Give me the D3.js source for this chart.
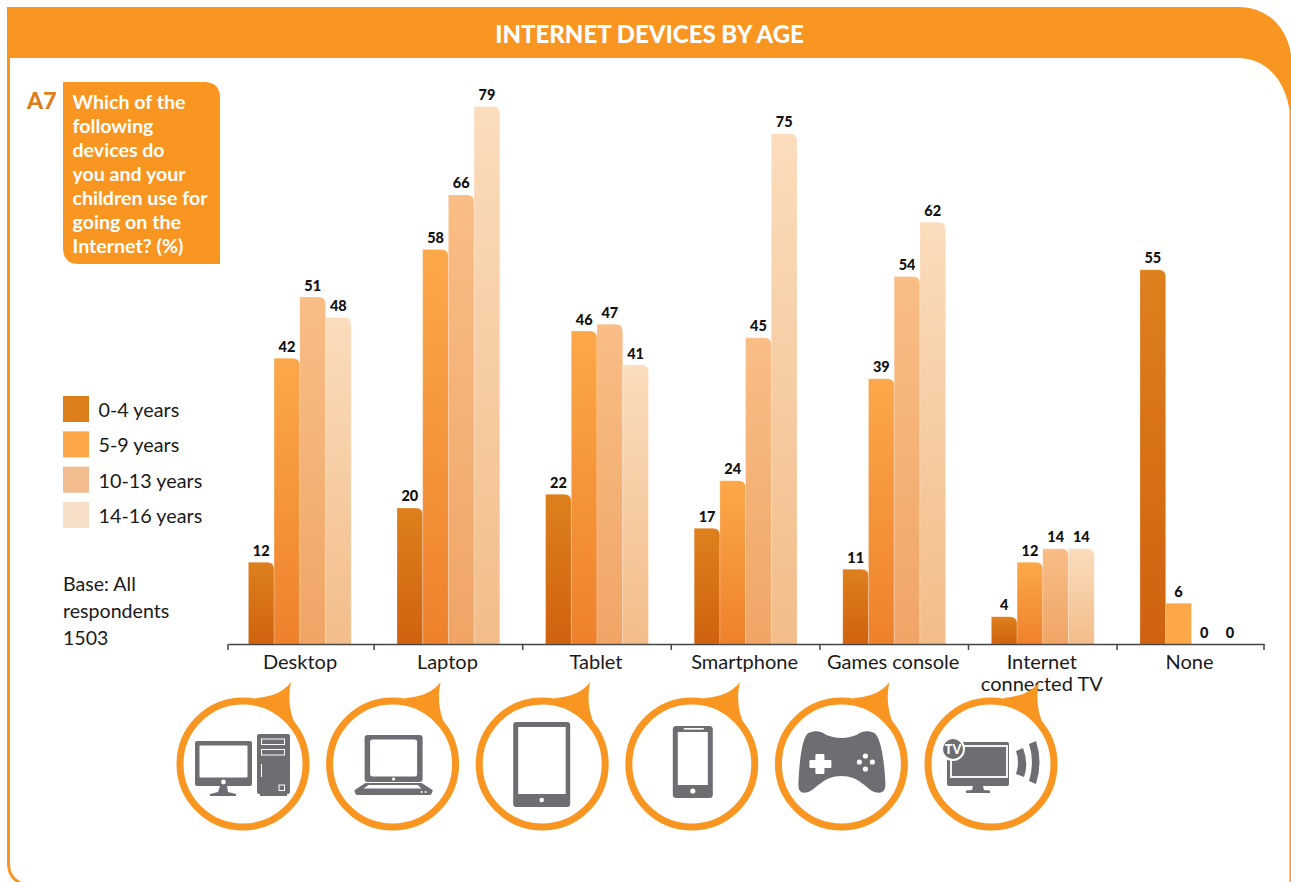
<!DOCTYPE html>
<html lang="en">
  <head>
    <meta charset="UTF-8" />
    <title>Internet devices by age</title>
    <script src="https://d3js.org/d3.v7.min.js"></script>
    <style>
      html, body { margin: 0; padding: 0; background: #fff; }
      svg { display: block; }
      text { font-family: Lato, "Open Sans", sans-serif; }
    </style>
  </head>
  <body>
    <svg width="1291" height="882"></svg>
    <script>
      // data
      const categories = ["Desktop", "Laptop", "Tablet", "Smartphone", "Games console", "Internet connected TV", "None"];
      const ageGroups = ["0-4 years", "5-9 years", "10-13 years", "14-16 years"];
      const age0to4 = [12, 20, 22, 17, 11, 4, 55];
      const age5to9 = [42, 58, 46, 24, 39, 12, 6];
      const age10to13 = [51, 66, 47, 45, 54, 14, 0];
      const age14to16 = [48, 79, 41, 75, 62, 14, 0];
      const seriesValues = [age0to4, age5to9, age10to13, age14to16];
      const questionLines = ["Which of the", "following", "devices do", "you and your", "children use for", "going on the", "Internet? (%)"];
      const baseLines = ["Base: All", "respondents", "1503"];
      const iconNames = ["desktop", "laptop", "tablet", "phone", "gamepad", "tv"];

      const orange = "#f99621";
      const grey = "#6d6e71";
      const legendColors = ["#dd7e1b", "#fca84a", "#f2bc8e", "#f8dfc8"];
      const barTop = ["#de801d", "#fca84a", "#f9bd85", "#fbdcbc"];
      const barBottom = ["#cf620f", "#ee812c", "#f0a566", "#f2bd8a"];

      const svg = d3.select("svg");

      // page frame
      svg.append("path")
        .attr("d", "M8.5,58 V864 Q8.5,877 20,883")
        .attr("fill", "none").attr("stroke", orange).attr("stroke-width", 3);
      svg.append("path")
        .attr("d", "M7,7 H1238 C1266,7 1286,25 1291,54 V882 H1289.5 V110 C1285,80 1266,58 1238,58 H7 Z")
        .attr("fill", orange);
      svg.append("text")
        .attr("x", 649.5).attr("y", 42.5)
        .attr("text-anchor", "middle")
        .attr("fill", "#fff").attr("font-size", 24).attr("font-weight", 900)
        .text("INTERNET DEVICES BY AGE");

      // question box
      svg.append("path")
        .attr("d", "M63,82 H204 Q220,82 220,98 V264 H79 Q63,264 63,248 Z")
        .attr("fill", orange);
      svg.append("text")
        .attr("x", 27).attr("y", 109)
        .attr("fill", "#dd7e1b").attr("font-size", 23).attr("font-weight", 900)
        .text("A7");
      svg.append("g").selectAll("text")
        .data(questionLines)
        .join("text")
        .attr("x", 72.5)
        .attr("y", (d, i) => 109 + i * 24)
        .attr("fill", "#fff").attr("font-size", 19.6).attr("font-weight", 700)
        .text(d => d);

      // legend
      const legend = svg.append("g");
      const legendY = d3.scalePoint().domain(ageGroups).range([396, 502]);
      legend.selectAll("rect")
        .data(ageGroups)
        .join("rect")
        .attr("x", 63).attr("y", d => legendY(d))
        .attr("width", 26).attr("height", 26)
        .attr("fill", (d, i) => legendColors[i]);
      legend.selectAll("text")
        .data(ageGroups)
        .join("text")
        .attr("x", 98.5).attr("y", d => legendY(d) + 21)
        .attr("fill", "#1a1a1a").attr("font-size", 19.8)
        .text(d => d);

      svg.append("g").selectAll("text")
        .data(baseLines)
        .join("text")
        .attr("x", 63)
        .attr("y", (d, i) => 591 + i * 27)
        .attr("fill", "#1a1a1a").attr("font-size", 19.6)
        .text(d => d);

      // scales
      const x0 = d3.scaleBand().domain(categories).range([228, 1268.2]);
      const x1 = d3.scaleBand().domain(d3.range(4)).range([20.4, 123.2]);
      const y = d3.scaleLinear().domain([0, 79]).range([644, 106.5]);

      // bar fills
      const defs = svg.append("defs");
      barTop.forEach((c, i) => {
        const grad = defs.append("linearGradient")
          .attr("id", "bar" + i)
          .attr("x1", 0).attr("y1", 0).attr("x2", 0).attr("y2", 1);
        grad.append("stop").attr("offset", 0).attr("stop-color", c);
        grad.append("stop").attr("offset", 1).attr("stop-color", barBottom[i]);
      });

      // the very short bar in "None" is flat and square in the original
      const isFlat = d => d.si === 1 && d.v < 10;

      // bar with a rounded top right corner
      function barPath(d) {
        const xPos = x0(d.c) + x1(d.si), w = x1.bandwidth();
        const top = y(d.v), base = y(0), r = isFlat(d) ? 0 : 7;
        return `M${xPos},${base} V${top} H${xPos + w - r} Q${xPos + w},${top} ${xPos + w},${top + r} V${base} Z`;
      }

      const rows = categories.flatMap((c, ci) =>
        seriesValues.map((vals, si) => ({ c, si, v: vals[ci] })));

      const barGroup = svg.append("g");
      barGroup.selectAll("path")
        .data(rows.filter(d => d.v > 0))
        .join("path")
        .attr("d", barPath)
        .attr("fill", d => isFlat(d) ? barTop[d.si] : `url(#bar${d.si})`)
        .attr("stroke", "#fff").attr("stroke-opacity", 0.35).attr("stroke-width", 0.6);

      barGroup.selectAll("text")
        .data(rows)
        .join("text")
        .attr("x", d => x0(d.c) + x1(d.si) + x1.bandwidth() / 2)
        .attr("y", d => y(d.v) - 6.5)
        .attr("text-anchor", "middle")
        .attr("fill", "#111").attr("font-size", 14.5).attr("font-weight", 900)
        .text(d => d.v);

      // axis: the line stops short of the last band and the inner ticks sit a little left
      const axisScale = d3.scaleBand().domain(categories).range([228, 1264]);
      const axis = svg.append("g")
        .attr("transform", "translate(0,644)")
        .call(d3.axisBottom(axisScale).tickSize(0).tickFormat(""));
      axis.select(".domain").attr("stroke", "#444").attr("stroke-width", 1.5);
      axis.selectAll(".tick").remove();
      const tickAt = i => i === 0 ? 228 : i === categories.length ? 1264 : x0(categories[i]) - 2.5;
      axis.selectAll("line.sep")
        .data(d3.range(categories.length + 1))
        .join("line")
        .attr("class", "sep")
        .attr("x1", tickAt)
        .attr("x2", tickAt)
        .attr("y1", 0).attr("y2", 6)
        .attr("stroke", "#444").attr("stroke-width", 1.5);

      const labelGroup = svg.append("g");
      const labelLines = d => d === "Internet connected TV" ? ["Internet", "connected TV"] : [d];
      labelGroup.selectAll("text")
        .data(categories)
        .join("text")
        .attr("text-anchor", "middle")
        .attr("fill", "#1a1a1a").attr("font-size", 20)
        .each(function (d, ci) {
          d3.select(this).selectAll("tspan")
            .data(labelLines(d))
            .join("tspan")
            .attr("x", (tickAt(ci) + tickAt(ci + 1)) / 2 - 1)
            .attr("y", (t, i) => 669 + i * 22)
            .text(t => t);
        });

      // icons below the axis, one bubble per device
      const iconX = d3.scalePoint().domain(iconNames).range([243, 991]);
      const drawIcon = {
        desktop(g) {
          g.append("rect").attr("x", -48).attr("y", -23).attr("width", 57).attr("height", 45).attr("rx", 2).attr("fill", grey);
          g.append("rect").attr("x", -43.5).attr("y", -18.5).attr("width", 48).attr("height", 32).attr("rx", 1).attr("fill", "#fff");
          g.append("circle").attr("cx", -19.5).attr("cy", 18).attr("r", 2.4).attr("fill", "#fff");
          g.append("path").attr("d", "M-23,22 H-16 L-15,28 L-7,30 V32 H-33 V30 L-25,28 Z").attr("fill", grey);
          g.append("rect").attr("x", 14).attr("y", -30).attr("width", 33).attr("height", 60).attr("rx", 2).attr("fill", grey);
          g.append("rect").attr("x", 17).attr("y", 30).attr("width", 27).attr("height", 2).attr("fill", grey);
          g.append("rect").attr("x", 18.5).attr("y", -25).attr("width", 23).attr("height", 5.5).attr("fill", "none").attr("stroke", "#fff");
          g.append("rect").attr("x", 18.5).attr("y", -14.5).attr("width", 23).attr("height", 5.5).attr("fill", "none").attr("stroke", "#fff");
          g.append("line").attr("x1", 18.5).attr("x2", 18.5).attr("y1", 0).attr("y2", 13).attr("stroke", "#fff");
          g.append("rect").attr("x", 36).attr("y", 21).attr("width", 5.5).attr("height", 5.5).attr("fill", "none").attr("stroke", "#fff");
        },
        laptop(g) {
          g.append("rect").attr("x", -28).attr("y", -29).attr("width", 58).attr("height", 47).attr("rx", 3).attr("fill", grey);
          g.append("rect").attr("x", -22.5).attr("y", -24.5).attr("width", 47).attr("height", 37).attr("rx", 2.5).attr("fill", "#fff");
          g.append("circle").attr("cx", 1).attr("cy", 15).attr("r", 1.6).attr("fill", "#fff");
          g.append("path").attr("d", "M-27,19 H29 L40,26 Q40,31 36,31 H-35 Q-38,31 -38,26 Z").attr("fill", grey);
          g.append("path").attr("d", "M-24,21 H25 L29,24.5 H-29 Z").attr("fill", "#fff");
          g.append("circle").attr("cx", 29).attr("cy", 28).attr("r", 1).attr("fill", "#fff");
          g.append("circle").attr("cx", 33).attr("cy", 28).attr("r", 1).attr("fill", "#fff");
        },
        tablet(g) {
          g.append("rect").attr("x", -29).attr("y", -42).attr("width", 57).attr("height", 85).attr("rx", 3).attr("fill", grey);
          g.append("rect").attr("x", -24).attr("y", -37).attr("width", 47.5).attr("height", 67).attr("fill", "#fff");
          g.append("circle").attr("cx", -0.5).attr("cy", 36).attr("r", 2.3).attr("fill", "#fff");
        },
        phone(g) {
          g.append("rect").attr("x", -19).attr("y", -38).attr("width", 40).attr("height", 72).attr("rx", 3.5).attr("fill", grey);
          g.append("rect").attr("x", -14).attr("y", -32).attr("width", 30).attr("height", 53).attr("fill", "#fff");
          g.append("rect").attr("x", -8).attr("y", -36).attr("width", 20).attr("height", 1.6).attr("fill", "#fff");
          g.append("circle").attr("cx", 1).attr("cy", 27).attr("r", 2.6).attr("fill", "#fff");
        },
        gamepad(g) {
          g.append("path")
            .attr("d", "M-33,-31 C-26,-34 -20,-33 -15,-29 C-5,-25 5,-25 15,-29 C20,-33 27,-34 33,-31 C39,-27 43,-5 44,20 C44,28 40,30 33,28 C25,25 18,12 0,12 C-18,12 -25,25 -33,28 C-40,30 -43,28 -43,20 C-42,-5 -39,-27 -33,-31 Z")
            .attr("fill", grey);
          g.append("path")
            .attr("d", "M-25,-9 H-18 V-3 H-11 V3 H-18 V9 H-25 V3 H-31 V-3 H-25 Z")
            .attr("fill", "#fff").attr("stroke", "#fff").attr("stroke-width", 2).attr("stroke-linejoin", "round");
          [[24, -8], [18, -2], [31, -2], [24, 5]].forEach(p => {
            g.append("circle").attr("cx", p[0]).attr("cy", p[1]).attr("r", 2.6).attr("fill", "#fff");
          });
        },
        tv(g) {
          g.append("rect").attr("x", -44).attr("y", -22).attr("width", 62).attr("height", 44).attr("rx", 2).attr("fill", grey);
          g.append("rect").attr("x", -40).attr("y", -18).attr("width", 56).attr("height", 31).attr("fill", "none").attr("stroke", "#fff").attr("stroke-width", 1.8);
          g.append("path").attr("d", "M-18,22 H-8 L-7,26 L-1,26.5 V29 H-25 V26.5 L-19,26 Z").attr("fill", grey);
          g.append("circle").attr("cx", -38).attr("cy", -15).attr("r", 11).attr("fill", grey).attr("stroke", "#fff").attr("stroke-width", 2);
          g.append("text").attr("x", -38).attr("y", -10.5).attr("text-anchor", "middle")
            .attr("fill", "#fff").attr("font-size", 12.5).attr("font-weight", 900).text("TV");
          g.append("path").attr("d", "M25,-13 L32,-16 Q38,0 33,13 L25,10 Q29,-1 25,-13 Z").attr("fill", grey);
          g.append("path").attr("d", "M38,-20 L45,-23 Q52,-2 45,20 L38,17 Q44,-2 38,-20 Z").attr("fill", grey);
        }
      };

      const icons = svg.append("g").selectAll("g")
        .data(iconNames)
        .join("g")
        .attr("transform", d => `translate(${iconX(d)},764)`);
      icons.append("path")
        .attr("d", "M12,-66 C28,-67 41,-72 48,-82 C45,-68 46,-54 52,-40 L40,-50 Z")
        .attr("fill", orange);
      icons.append("circle")
        .attr("r", 63)
        .attr("fill", "#fff").attr("stroke", orange).attr("stroke-width", 7);
      icons.each(function (d) { drawIcon[d](d3.select(this)); });
    </script>
  </body>
</html>
